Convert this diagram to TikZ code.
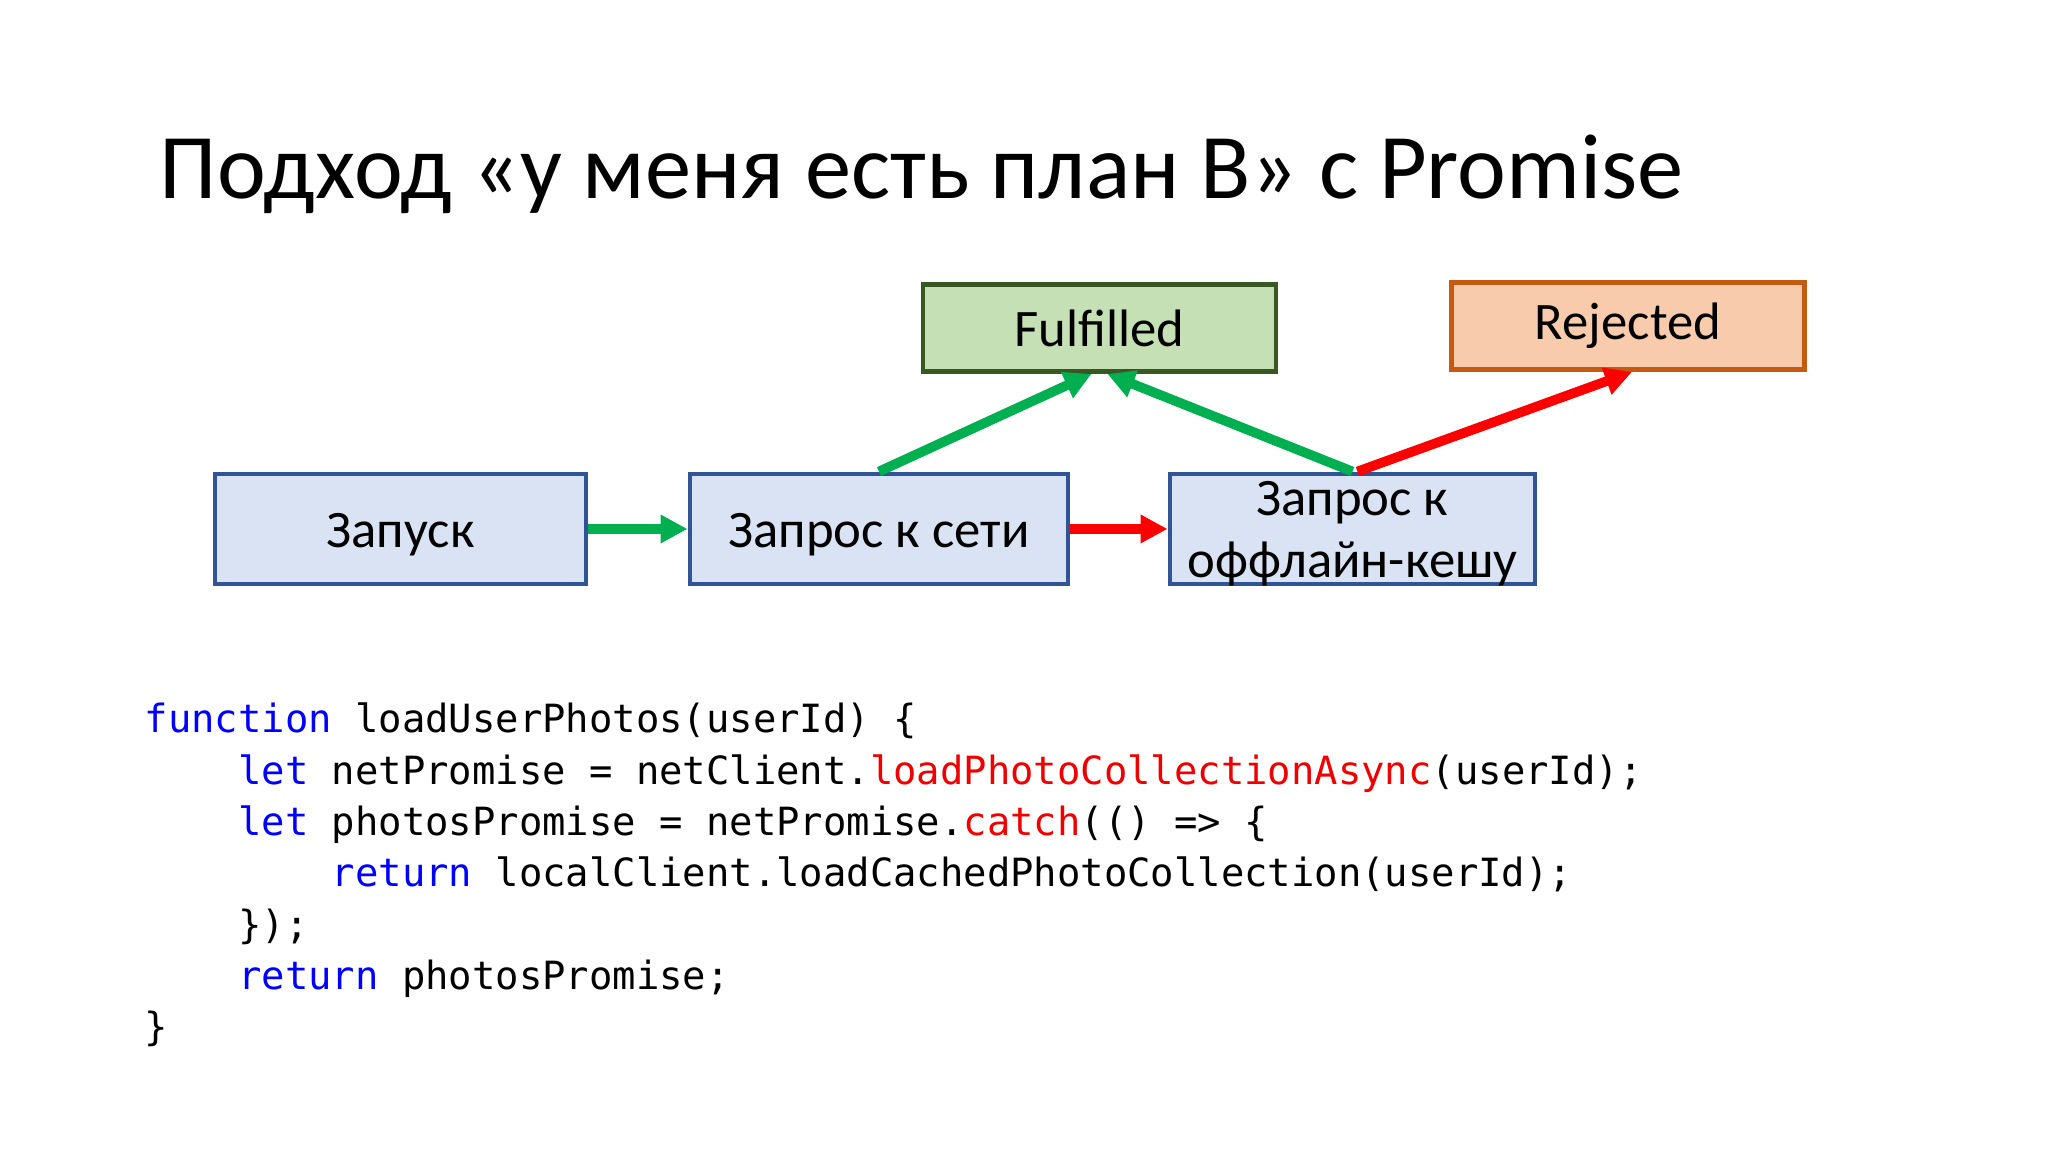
\documentclass[tikz,border=0pt]{standalone}
\usepackage{fontspec}
\setmainfont{Carlito}
\newfontfamily\codefont{DejaVu Sans Mono}
\usetikzlibrary{arrows.meta}
\definecolor{boxblue}{HTML}{DAE3F3}
\definecolor{lineblue}{HTML}{2F5597}
\definecolor{boxgreen}{HTML}{C5E0B4}
\definecolor{linegreen}{HTML}{385723}
\definecolor{boxorange}{HTML}{F8CBAD}
\definecolor{lineorange}{HTML}{C55A11}
\definecolor{okgreen}{HTML}{00B050}
\definecolor{kwblue}{HTML}{0000FF}
\definecolor{fnred}{HTML}{F00000}

\begin{document}
\begin{tikzpicture}[
  stage/.style={draw=lineblue, fill=boxblue, line width=1.4pt, minimum height=1.1cm, text height=0.5cm, text depth=0.13cm, font=\fontsize{15}{17.6}\selectfont},
  state/.style={line width=1.4pt, minimum height=0.87cm, minimum width=3.53cm, font=\fontsize{15}{17.6}\selectfont},
  go/.style={draw=okgreen, line width=2.75pt, -{Triangle[length=0.27cm,width=0.27cm]}},
  fail/.style={draw=red, line width=2.75pt, -{Triangle[length=0.27cm,width=0.27cm]}},
  code/.style={anchor=base west, inner sep=0, font=\codefont\fontsize{11.06}{14.6}\selectfont}]
\useasboundingbox[fill=white] (0,0) rectangle (20.48,11.52);
\node[anchor=base west, inner sep=0, font=\fontsize{26.3}{30}\selectfont] (title) at (1.59,9.53) {Подход «у меня есть план B» с Promise};
\node[stage, minimum width=3.71cm] (start) at (4.005,6.23) {Запуск};
\node[stage, minimum width=3.78cm] (net) at (8.79,6.23) {Запрос к сети};
\node[stage, minimum width=3.65cm, label={[font=\fontsize{15}{17.6}\selectfont, align=center, yshift=-0.05cm]center:Запрос к\\оффлайн-кешу}] (cache) at (13.525,6.23) {};
\node[state, draw=linegreen, fill=boxgreen] (ok) at (10.995,8.24) {Fulfilled};
\node[state, draw=lineorange, fill=boxorange] (rej) at (16.28,8.26) {Rejected};
\draw[go] (start) -- (net);
\draw[fail] (net) -- (cache);
\draw[go] (net.north) -- ([xshift=-0.08cm]ok.south);
\draw[go] (cache.north) -- ([xshift=0.08cm]ok.south);
\draw[fail] ([xshift=0.05cm]cache.north) -- ([xshift=0.04cm]rej.south);
\node[code] (c1) at (1.44,4.19) {\textcolor{kwblue}{function} loadUserPhotos(userId) \{};
\node[code] (c2) at (2.376,3.677) {\textcolor{kwblue}{let} netPromise = netClient.\textcolor{fnred}{loadPhotoCollectionAsync}(userId);};
\node[code] (c3) at (2.376,3.164) {\textcolor{kwblue}{let} photosPromise = netPromise.\textcolor{fnred}{catch}(() => \{};
\node[code] (c4) at (3.312,2.651) {\textcolor{kwblue}{return} localClient.loadCachedPhotoCollection(userId);};
\node[code] (c5) at (2.376,2.138) {\});};
\node[code] (c6) at (2.376,1.625) {\textcolor{kwblue}{return} photosPromise;};
\node[code] (c7) at (1.44,1.112) {\}};
\end{tikzpicture}
\end{document}
